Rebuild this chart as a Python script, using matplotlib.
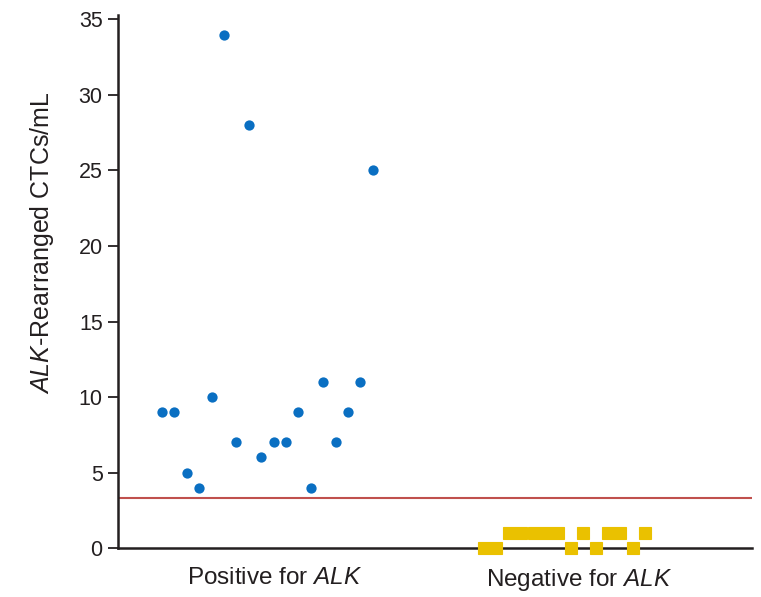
import matplotlib
matplotlib.use("Agg")
import matplotlib.pyplot as plt
import numpy as np

plt.rcParams['font.family'] = ['Liberation Sans', 'DejaVu Sans']
plt.rcParams['mathtext.fontset'] = 'custom'
plt.rcParams['mathtext.rm'] = 'Liberation Sans'
plt.rcParams['mathtext.it'] = 'Liberation Sans:italic'

# ALK-rearranged CTCs/mL per patient
pos_values = [9, 9, 5, 4, 10, 34, 7, 28, 6, 7, 7, 9, 4, 11, 7, 9, 11, 25]
neg_values = [0, 0, 1, 1, 1, 1, 1, 0, 1, 0, 1, 1, 0, 1]
threshold = 3.3
group_labels = ['Positive for $\\it{ALK}$', 'Negative for $\\it{ALK}$']
yticks = [0, 5, 10, 15, 20, 25, 30, 35]

text_col = '#231f20'
yellow = '#eac100'

fig = plt.figure(figsize=(7.61, 5.97), dpi=100)
ax = fig.add_axes([0.155, 0.082, 0.833, 0.893])

pos_x = 3.55 + np.arange(len(pos_values))
neg_x = 29.5 + np.arange(len(neg_values))

ax.axhline(threshold, color='#c0504d', lw=1.5, zorder=1)
ax.plot(pos_x, pos_values, 'o', color='#0a6fc2', ms=7.4, mec='none', zorder=3)
ax.plot(neg_x, neg_values, 's', color=yellow, ms=8.8, mec=yellow, mew=0.8,
        zorder=3, clip_on=False)

ax.set_xlim(0, 51.1)
ax.set_ylim(0, 35.3)
ax.set_yticks(yticks)
ax.set_xticks([12.6, 37.2])
ax.set_xticklabels(group_labels, fontsize=17.5, color=text_col)
ax.tick_params(axis='x', length=0, pad=14)
ax.tick_params(axis='y', length=7, width=1.3, labelsize=15.5, labelcolor=text_col,
               color=text_col, pad=4)

ax.spines['top'].set_visible(False)
ax.spines['right'].set_visible(False)
ax.spines['left'].set_linewidth(1.8)
ax.spines['bottom'].set_linewidth(1.8)
ax.spines['left'].set_color(text_col)
ax.spines['bottom'].set_color(text_col)

ax.set_ylabel('$\\it{ALK}$-Rearranged CTCs/mL', fontsize=18, color=text_col)
ax.yaxis.set_label_coords(-0.097, 0.572)

fig.savefig('out.png', dpi=100)
